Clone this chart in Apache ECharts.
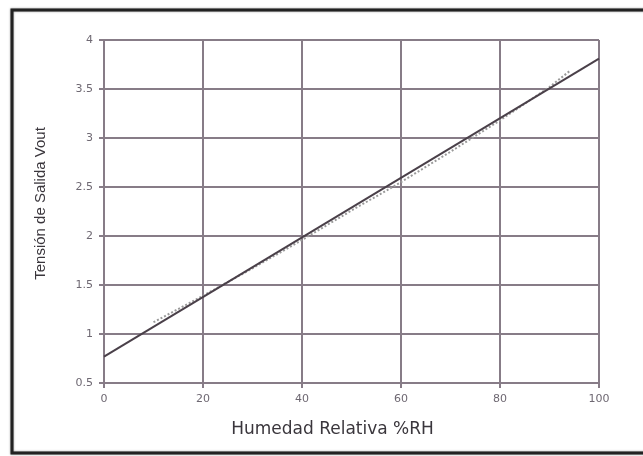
<!DOCTYPE html>
<html>
<head>
<meta charset="utf-8">
<script src="https://cdn.jsdelivr.net/npm/echarts@6/dist/echarts.min.js"></script>
<style>html,body{margin:0;padding:0;background:#fff;}#c{width:643px;height:456px;}</style>
</head>
<body>
<div id="c"></div>
<script>
// Fitted straight line (solid)
const fitX = [0, 100];
const fitY = [0.77, 3.81];
// Measured data (dotted)
const measX = [10, 20, 30, 40, 50, 60, 70, 80, 90, 94];
const measY = [1.12, 1.39, 1.67, 1.96, 2.26, 2.55, 2.86, 3.18, 3.52, 3.68];
const xTicks = [0, 20, 40, 60, 80, 100];
const yTicks = [0.5, 1, 1.5, 2, 2.5, 3, 3.5, 4];

const chart = echarts.init(document.getElementById('c'));
const gridColor = '#877c87';
chart.setOption({
  animation: false,
  backgroundColor: '#fff',
  grid: { left: 104, right: 44, top: 40, bottom: 73 },
  graphic: [{
    type: 'rect', silent: true,
    shape: { x: 12, y: 10, width: 650, height: 443 },
    style: { fill: 'none', stroke: '#222', lineWidth: 3, shadowBlur: 2, shadowColor: 'rgba(0,0,0,0.5)' }
  }],
  xAxis: {
    type: 'value', min: xTicks[0], max: xTicks[xTicks.length - 1], interval: 20,
    name: 'Humedad Relativa %RH', nameLocation: 'middle', nameGap: 38,
    nameTextStyle: { fontFamily: 'DejaVu Sans', fontSize: 17, color: '#3a363c', padding: [0, 38, 0, 0] },
    axisLine: { show: true, lineStyle: { color: gridColor, width: 2 } },
    axisTick: { show: true, length: 5, lineStyle: { color: gridColor, width: 2 } },
    axisLabel: { margin: 11, fontFamily: 'DejaVu Sans', fontSize: 11, color: '#6e6872' },
    splitLine: { show: true, lineStyle: { color: gridColor, width: 2 } }
  },
  yAxis: {
    type: 'value', min: yTicks[0], max: yTicks[yTicks.length - 1], interval: 0.5,
    name: 'Tensión de Salida Vout', nameLocation: 'middle', nameGap: 56,
    nameTextStyle: { fontFamily: 'Liberation Sans', fontSize: 15, color: '#3a363c', padding: [0, 0, 0, 16] },
    axisLine: { show: true, lineStyle: { color: gridColor, width: 2 } },
    axisTick: { show: true, length: 5, lineStyle: { color: gridColor, width: 2 } },
    axisLabel: { margin: 11, fontFamily: 'DejaVu Sans', fontSize: 11, color: '#6e6872' },
    splitLine: { show: true, lineStyle: { color: gridColor, width: 2 } }
  },
  series: [
    {
      type: 'line', data: measX.map((x, i) => [x, measY[i]]),
      showSymbol: false, z: 2,
      lineStyle: { color: '#9a9a9a', width: 2, type: 'dotted' }
    },
    {
      type: 'line', data: fitX.map((x, i) => [x, fitY[i]]),
      showSymbol: false, z: 3,
      lineStyle: { color: '#4a4049', width: 2 }
    }
  ]
});
</script>
</body>
</html>
